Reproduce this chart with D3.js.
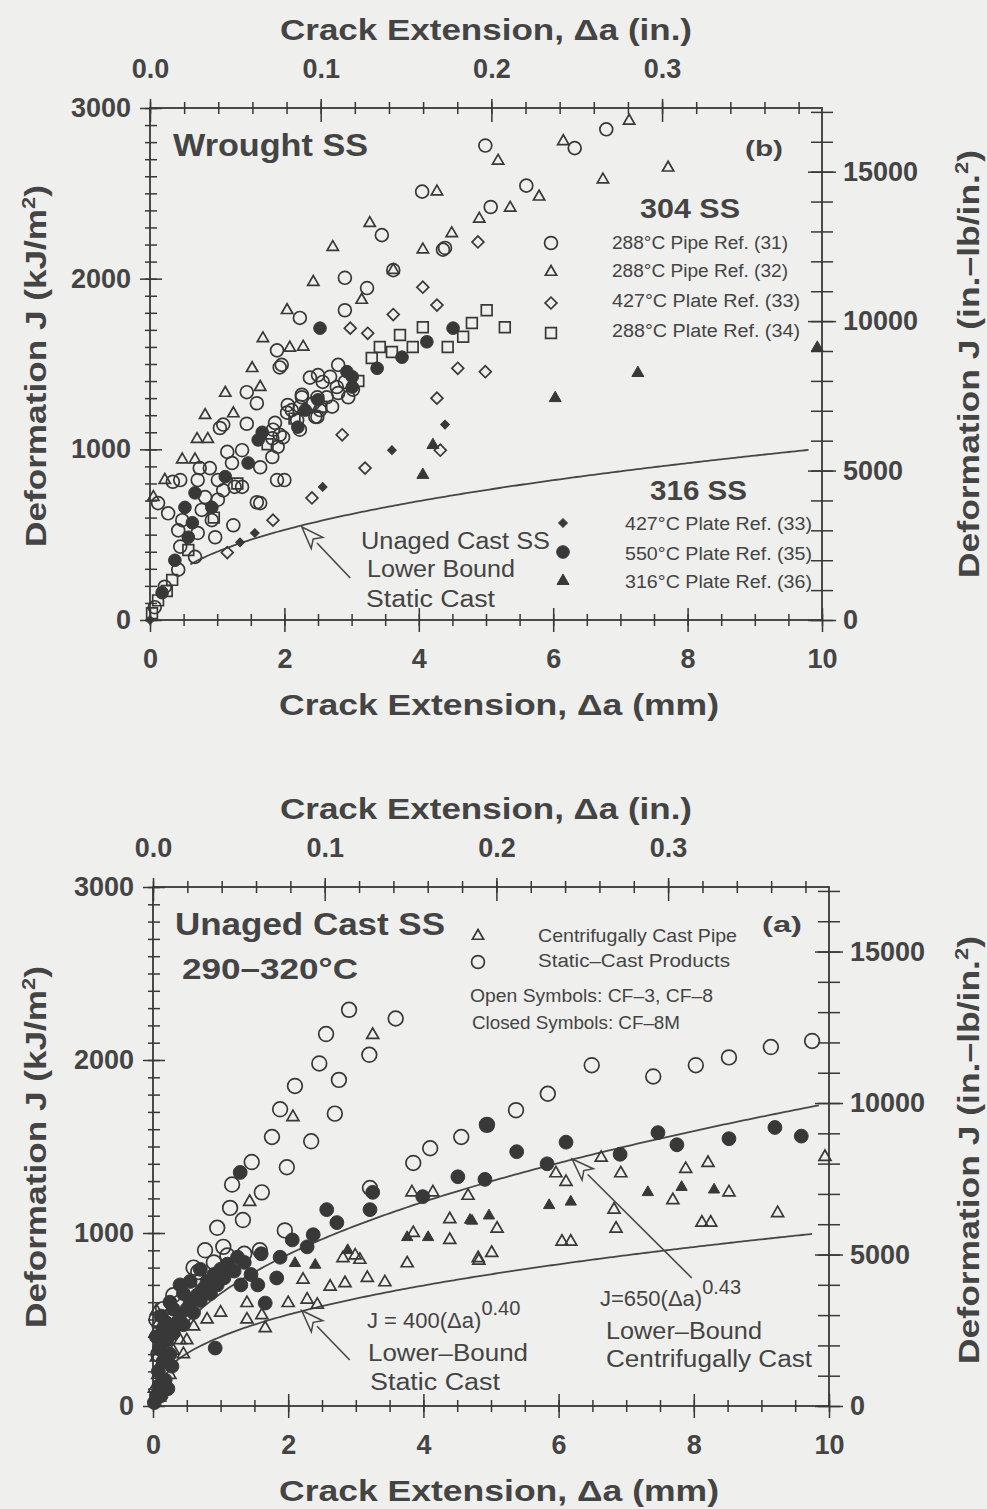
<!DOCTYPE html>
<html>
<head>
<meta charset="utf-8">
<script src="https://cdn.jsdelivr.net/npm/d3@7/dist/d3.min.js"></script>
<style>
  body { margin: 0; background: #efefed; }
  svg { display: block; }
  text { font-family: "Liberation Sans", Arial, Helvetica, sans-serif; fill: #444; }
</style>
</head>
<body>
<svg id="chart" width="987" height="1509"></svg>
<script>
// ---- tick labels ----
const mmTicks = [0, 2, 4, 6, 8, 10];
const inTicks = [0, 0.1, 0.2, 0.3];
const jTicks = [0, 1000, 2000, 3000];
const inlbTicks = [0, 5000, 10000, 15000];

// ---- (b) Wrought SS : [crack extension mm, J kJ/m2] ----
const pipe288Ref31 = [
  [4.99,2780],[6.32,2765],[6.79,2875],[5.6,2545],[5.07,2420],[4.39,2180],[4.05,2510],[4.36,2170],
  [3.45,2255],[3.62,2050],[2.9,2005],[3.23,1945],[2.9,1815],[2.23,1770],[1.89,1580],[1.96,1495],
  [1.93,1480],[1.44,1335],[1.59,1270],[1.04,1125],[1.44,1150],[1.09,1145],[1.89,820],[2.0,820],
  [1.24,555],[0.27,625],[1.15,985],[1.37,995],[1.82,1065],[1.98,1070],[2.11,1230],[2.26,1305],
  [2.46,1190],[2.71,1250],[2.8,1330],[2.9,1395],[1.22,920],[1.64,895],[1.82,955],[1.9,1015],
  [0.89,890],[1.01,820],[1.26,780],[1.37,780],[1.59,690],[0.71,820],[0.82,720],[0.77,645],
  [0.48,585],[0.42,525],[0.71,510],[0.45,430],[0.67,370],[0.42,295],[0.22,195],[0.07,75],
  [0.92,585],[0.97,485],[1.01,705],[1.09,760],[1.64,685],[0.12,685],[0.45,820],[0.34,810],
  [0.74,890],[2.8,1495],[2.68,1425],[2.5,1435],[2.38,1420],[2.57,1395],[2.78,1365],[3.02,1350],
  [2.95,1305],[2.63,1305],[2.49,1305],[2.43,1270],[2.26,1320],[2.23,1250],[2.53,1230],[2.49,1190],
  [2.05,1260],[2.04,1215],[2.19,1170],[2.23,1115],[1.86,1155],[1.83,1115],[1.93,1085]
];
const pipe288Ref32 = [
  [6.15,2805],[7.13,2925],[5.18,2690],[7.71,2650],[6.74,2580],[5.79,2480],[5.36,2415],[4.9,2350],
  [4.49,2265],[4.27,2510],[4.06,2170],[3.27,2325],[2.72,2185],[3.62,2050],[2.43,1980],[3.15,1875],
  [2.04,1815],[1.68,1650],[2.08,1595],[2.28,1600],[1.52,1475],[1.64,1365],[1.12,1330],[1.24,1210],
  [0.82,1200],[0.7,1060],[0.86,1060],[0.48,940],[0.67,940],[0.22,820],[0.05,720]
];
const plate427Ref33 = [
  [4.88,2215],[4.06,1950],[4.27,1845],[2.98,1710],[3.62,1790],[3.24,1680],[4.58,1475],[4.99,1455],
  [4.27,1300],[2.86,1085],[3.2,890],[2.41,715],[1.15,395],[4.32,995],[1.83,585]
];
const plate288Ref34 = [
  [3.72,1670],[4.06,1715],[3.42,1600],[3.3,1535],[3.6,1570],[3.91,1600],[4.43,1600],[4.66,1660],
  [4.79,1740],[5.01,1815],[5.28,1715],[0.57,410],[0.33,235],[0.12,115],[0.03,40],[2.55,1250],
  [3.1,1400],[1.3,800],[0.95,600],[0.25,170],[1.75,1030],[2.15,1180]
];
const ss316Plate427Ref33 = [[4.39,1145],[3.6,995],[2.57,780],[1.56,510],[1.34,455],[0,0]];
const ss316Plate550Ref35 = [
  [1.67,1100],[2.2,1130],[2.5,1290],[3.01,1365],[1.46,920],[1.61,1055],[1.12,840],[0.67,745],
  [0.92,660],[0.52,660],[0.63,570],[0.57,485],[0.37,350],[0.18,160],[2.53,1710],[4.51,1710],
  [4.12,1630],[3.75,1540],[3.38,1475],[3.01,1425],[2.93,1455],[2.31,1230]
];
const ss316Plate316Ref36 = [[4.21,1025],[4.06,850],[6.03,1300],[7.26,1447],[9.93,1595]];

// ---- (a) Unaged Cast SS ----
const staticOpen = [
  [2.9,2290],[3.59,2240],[2.56,2150],[3.2,2030],[2.46,1980],[2.75,1885],[2.1,1850],[2.69,1690],
  [1.88,1715],[1.76,1555],[2.34,1530],[4.1,1490],[4.56,1555],[4.94,1625],[6.49,1970],[7.4,1905],
  [8.03,1970],[8.52,2015],[9.14,2075],[9.75,2110],[5.84,1805],[5.37,1710],[1.46,1410],[1.17,1280],
  [1.61,1235],[1.98,1380],[1.14,1145],[1.33,1075],[0.95,1030],[0.77,900],[1.04,920],[0.67,775],
  [1.58,900],[1.95,1015],[3.85,1405],[3.21,1260],[0.05,500],[0.15,560],[0.3,640],[0.4,600],
  [0.55,680],[0.7,720],[0.9,830],[1.1,870],[0.25,520],[0.08,300],[0.2,400],[0.6,800],[1.35,880]
];
const staticClosed = [
  [5.38,1470],[6.11,1525],[7.47,1580],[7.75,1510],[8.52,1545],[9.2,1610],[9.59,1560],[6.91,1455],
  [5.83,1400],[4.51,1325],[4.91,1310],[4.94,1625],[1.29,1350],[2.57,1135],[2.72,1060],[3.25,1235],
  [3.21,1135],[2.06,960],[2.28,920],[1.88,860],[1.83,740],[1.66,595],[0.92,335],[3.99,1210],
  [2.37,990],[0.05,60],[0.1,120],[0.08,200],[0.15,260],[0.1,330],[0.2,380],[0.25,300],[0.3,420],
  [0.35,480],[0.4,530],[0.45,470],[0.5,560],[0.55,600],[0.6,540],[0.65,640],[0.7,610],[0.75,680],
  [0.8,720],[0.85,650],[0.9,760],[0.95,700],[1.0,790],[1.05,740],[1.1,820],[1.2,780],[1.25,860],
  [1.3,700],[1.35,830],[1.45,760],[1.55,700],[1.6,880],[0.2,480],[0.3,560],[0.45,650],[0.15,450],
  [0.05,400],[0.12,520],[0.25,600],[0.4,700],[0.55,720],[0.7,790],[0.02,20],[0.18,150],[0.28,230],
  [0.12,60],[0.22,100]
];
const centrifugalOpen = [
  [3.25,2145],[2.07,1670],[6.63,1435],[6.92,1345],[5.96,1345],[6.11,1295],[4.66,1215],[7.88,1370],
  [8.21,1405],[8.52,1235],[7.69,1190],[9.24,1115],[9.94,1440],[4.39,1080],[5.09,1025],[4.39,960],
  [4.82,840],[5.01,885],[6.05,950],[6.18,950],[6.82,1135],[6.85,1025],[8.12,1060],[8.25,1060],
  [1.43,1180],[2.22,730],[2.62,690],[2.84,710],[3.17,740],[3.43,715],[2.0,595],[2.28,615],
  [2.43,585],[1.39,595],[1.39,500],[1.61,525],[1.66,450],[2.81,855],[2.99,870],[3.06,845],
  [3.76,825],[3.85,1000],[3.83,1235],[4.14,1235],[4.81,855],[0.05,550],[0.08,480],[0.03,420],
  [0.1,350],[0.05,280],[0.07,180],[0.12,250],[0.2,330],[0.3,320],[0.4,380],[0.5,380],[0.45,300],
  [0.15,150],[0.25,180],[0.6,460],[0.8,500],[1.0,540],[0.02,100],[0.1,50]
];
const centrifugalClosed = [
  [4.72,1070],[4.97,1100],[5.86,1160],[6.18,1180],[7.32,1235],[7.82,1265],[8.3,1250],[2.1,825],
  [2.4,815],[4.07,975],[3.76,975],[4.69,1075],[2.88,900]
];

// lower-bound power laws J = C (Δa)^n as printed on the chart : [C, n]
const staticBound = [400, 0.40];
const centrifugalBound = [650, 0.43];

const MM_PER_IN = 25.4;
const INLB_PER_KJ = 5.71;
const ink = '#383838';

const svg = d3.select('#chart');

const styles = {
  circle: { shape: d3.symbolCircle, size: 130 },
  triangle: { shape: d3.symbolTriangle, size: 55 },
  diamond: { shape: d3.symbolSquare, size: 70, rotate: true },
  square: { shape: d3.symbolSquare, size: 115 },
  dotDiamond: { shape: d3.symbolSquare, size: 38, rotate: true, filled: true },
  dot: { shape: d3.symbolCircle, size: 125, filled: true },
  solidTriangle: { shape: d3.symbolTriangle, size: 62, filled: true },
  bigCircle: { shape: d3.symbolCircle, size: 170 },
  bigTriangle: { shape: d3.symbolTriangle, size: 62 },
  bigDot: { shape: d3.symbolCircle, size: 150, filled: true },
  bigSolidTriangle: { shape: d3.symbolTriangle, size: 55, filled: true },
};

function symbolAt(g, px, py, s) {
  return g.append('path')
    .attr('transform', `translate(${px},${py})` + (s.rotate ? ' rotate(45)' : ''))
    .attr('d', d3.symbol(s.shape, s.size))
    .attr('fill', s.filled ? ink : 'none')
    .attr('stroke', ink)
    .attr('stroke-width', s.filled ? 1 : 1.7);
}

function drawPoints(g, data, x, y, s) {
  g.append('g')
    .selectAll('path')
    .data(data)
    .join('path')
    .attr('transform', (d) => `translate(${x(d[0])},${y(d[1])})` + (s.rotate ? ' rotate(45)' : ''))
    .attr('d', d3.symbol(s.shape, s.size))
    .attr('fill', s.filled ? ink : 'none')
    .attr('stroke', ink)
    .attr('stroke-width', s.filled ? 1 : 1.7);
}

function label(g, str, x, y, o = {}) {
  const t = g.append('text')
    .attr('x', x)
    .attr('y', y)
    .attr('font-size', o.size || 20)
    .attr('font-weight', o.bold ? 'bold' : 'normal')
    .attr('text-anchor', o.anchor || 'start')
    .text(str);
  if (o.len) t.attr('textLength', o.len).attr('lengthAdjust', 'spacingAndGlyphs');
  return t;
}

// crossing tick marks (no labels)
function tickMarks(g, axis, transform, values, inner, outer, horizontal) {
  const a = g.append('g')
    .attr('transform', transform)
    .call(axis.tickValues(values).tickSize(outer).tickFormat(''));
  a.select('.domain').remove();
  a.selectAll('.tick line')
    .attr(horizontal ? 'y1' : 'x1', inner)
    .attr(horizontal ? 'y2' : 'x2', outer)
    .attr('stroke', ink)
    .attr('stroke-width', 1.5);
}

function tickLabels(g, axis, transform, values, pad, fmt) {
  const a = g.append('g')
    .attr('transform', transform)
    .call(axis.tickValues(values).tickSize(0).tickPadding(pad).tickFormat(fmt));
  a.select('.domain').remove();
  a.selectAll('text')
    .attr('font-size', 27)
    .attr('font-weight', 'bold')
    .attr('font-family', '"Liberation Sans", Arial, sans-serif')
    .attr('fill', '#444');
}

function boundCurve(g, law, from, to, x, y) {
  const pts = d3.range(from, to + 1e-9, 0.05).map((a) => [a, law[0] * Math.pow(a, law[1])]);
  g.append('path')
    .datum(pts)
    .attr('fill', 'none')
    .attr('stroke', '#474747')
    .attr('stroke-width', 1.8)
    .attr('d', d3.line().x((d) => x(d[0])).y((d) => y(d[1])));
}

// open-headed arrow from tail to tip (in data units)
function arrow(g, tail, tip, x, y) {
  const x1 = x(tail[0]), y1 = y(tail[1]), x2 = x(tip[0]), y2 = y(tip[1]);
  const ang = Math.atan2(y2 - y1, x2 - x1);
  const len = 22, half = 8;
  const bx = x2 - len * Math.cos(ang), by = y2 - len * Math.sin(ang);
  const nx = -Math.sin(ang) * half, ny = Math.cos(ang) * half;
  g.append('line')
    .attr('x1', x1).attr('y1', y1).attr('x2', bx).attr('y2', by)
    .attr('stroke', '#474747').attr('stroke-width', 1.6);
  g.append('path')
    .attr('d', `M${x2},${y2}L${bx + nx},${by + ny}L${bx + len * 0.25 * Math.cos(ang)},${by + len * 0.25 * Math.sin(ang)}L${bx - nx},${by - ny}Z`)
    .attr('fill', '#efefed').attr('stroke', '#474747').attr('stroke-width', 1.5);
}

function panel(p) {
  const g = svg.append('g');
  const x = d3.scaleLinear().domain([0, 10]).range([p.left, p.right]);
  const y = d3.scaleLinear().domain([0, 3000]).range([p.bottom, p.top]);
  const xIn = d3.scaleLinear().domain([0, 10 / MM_PER_IN]).range([p.left, p.right]);
  const yR = d3.scaleLinear().domain([0, 3000 * INLB_PER_KJ]).range([p.bottom, p.top]);

  g.append('rect')
    .attr('x', p.left).attr('y', p.top)
    .attr('width', p.right - p.left).attr('height', p.bottom - p.top)
    .attr('fill', 'none').attr('stroke', ink).attr('stroke-width', 1.8);

  // bottom: mm
  tickMarks(g, d3.axisBottom(x), `translate(0,${p.bottom})`, d3.range(0, 21).map((i) => i * 0.5), -6, 6, true);
  tickMarks(g, d3.axisBottom(x), `translate(0,${p.bottom})`, mmTicks, -12, 12, true);
  tickLabels(g, d3.axisBottom(x), `translate(0,${p.bottom})`, mmTicks, 29, d3.format('d'));
  // top: inches
  tickMarks(g, d3.axisTop(xIn), `translate(0,${p.top})`, d3.range(0, 20).map((i) => i * 0.02), 6, -6, true);
  tickMarks(g, d3.axisTop(xIn), `translate(0,${p.top})`, inTicks, 14, -9, true);
  tickLabels(g, d3.axisTop(xIn), `translate(0,${p.top})`, inTicks, 30, d3.format('.1f'));
  // left: kJ/m2
  tickMarks(g, d3.axisLeft(y), `translate(${p.left},0)`, d3.range(0, 31).map((i) => i * 100), 7, -5, false);
  tickMarks(g, d3.axisLeft(y), `translate(${p.left},0)`, jTicks, 12, -10, false);
  tickLabels(g, d3.axisLeft(y), `translate(${p.left},0)`, jTicks, 19, d3.format('d'));
  // right: in.-lb/in.2
  tickMarks(g, d3.axisRight(yR), `translate(${p.right},0)`, d3.range(0, 18).map((i) => i * 1000), -11, 11, false);
  tickMarks(g, d3.axisRight(yR), `translate(${p.right},0)`, inlbTicks, -14, 14, false);
  tickLabels(g, d3.axisRight(yR), `translate(${p.right},0)`, inlbTicks, 21, d3.format('d'));

  // axis titles
  label(g, 'Crack Extension, \u0394a (in.)', 486, p.top - 68, { size: 29, bold: true, anchor: 'middle', len: 412 });
  label(g, 'Crack Extension, \u0394a (mm)', 499, p.bottom + 95, { size: 29, bold: true, anchor: 'middle', len: 440 });

  const yl = g.append('text')
    .attr('transform', `translate(46,${p.ymid}) rotate(-90)`)
    .attr('text-anchor', 'middle').attr('font-size', 29).attr('font-weight', 'bold')
    .attr('textLength', 362).attr('lengthAdjust', 'spacingAndGlyphs');
  yl.append('tspan').text('Deformation J (kJ/m');
  yl.append('tspan').attr('dy', -11).attr('font-size', 18).text('2');
  yl.append('tspan').attr('dy', 11).text(')');

  const yr = g.append('text')
    .attr('transform', `translate(979,${p.ymidR}) rotate(-90)`)
    .attr('text-anchor', 'middle').attr('font-size', 29).attr('font-weight', 'bold')
    .attr('textLength', 428).attr('lengthAdjust', 'spacingAndGlyphs');
  yr.append('tspan').text('Deformation J (in.\u2013lb/in.');
  yr.append('tspan').attr('dy', -11).attr('font-size', 18).text('2');
  yr.append('tspan').attr('dy', 11).text(')');

  return { g, x, y };
}

// ================= (b) top panel =================
{
  const { g, x, y } = panel({ left: 150, right: 822, top: 108, bottom: 620, ymid: 366, ymidR: 364 });

  boundCurve(g, staticBound, 0.6, 9.8, x, y);
  arrow(g, [2.98, 246], [2.26, 545], x, y);

  drawPoints(g, plate288Ref34, x, y, styles.square);
  drawPoints(g, plate427Ref33, x, y, styles.diamond);
  drawPoints(g, pipe288Ref31, x, y, styles.circle);
  drawPoints(g, pipe288Ref32, x, y, styles.triangle);
  drawPoints(g, ss316Plate550Ref35, x, y, styles.dot);
  drawPoints(g, ss316Plate427Ref33, x, y, styles.dotDiamond);
  drawPoints(g, ss316Plate316Ref36, x, y, styles.solidTriangle);

  label(g, 'Wrought SS', 173, 156, { size: 31, bold: true, len: 195 });
  label(g, '(b)', 745, 156, { size: 22, bold: true, len: 38 });

  label(g, '304 SS', 640, 218, { size: 27, bold: true, len: 100 });
  const legend304 = [
    ['288\u00B0C Pipe Ref. (31)', styles.circle, 243, 249, 176],
    ['288\u00B0C Pipe Ref. (32)', styles.triangle, 272, 277, 176],
    ['427\u00B0C Plate Ref. (33)', styles.diamond, 303, 307, 188],
    ['288\u00B0C Plate Ref. (34)', styles.square, 333, 337, 188],
  ];
  legend304.forEach(([t, s, sy, ty, len]) => {
    symbolAt(g, 551, sy, s);
    label(g, t, 612, ty, { size: 18, len });
  });

  label(g, '316 SS', 650, 500, { size: 27, bold: true, len: 97 });
  const legend316 = [
    ['427\u00B0C Plate Ref. (33)', styles.dotDiamond, 523, 530],
    ['550\u00B0C Plate Ref. (35)', styles.dot, 552, 560],
    ['316\u00B0C Plate Ref. (36)', styles.solidTriangle, 581, 588],
  ];
  legend316.forEach(([t, s, sy, ty]) => {
    symbolAt(g, 563, sy, s);
    label(g, t, 625, ty, { size: 18, len: 187 });
  });

  label(g, 'Unaged Cast SS', 361, 549, { size: 23, len: 189 });
  label(g, 'Lower Bound', 367, 577, { size: 23, len: 148 });
  label(g, 'Static Cast', 366, 607, { size: 23, len: 129 });
}

// ================= (a) bottom panel =================
{
  const { g, x, y } = panel({ left: 153, right: 829, top: 887, bottom: 1406, ymid: 1147, ymidR: 1150 });

  boundCurve(g, staticBound, 0.3, 9.76, x, y);
  boundCurve(g, centrifugalBound, 0.3, 9.85, x, y);
  arrow(g, [2.91, 266], [2.2, 552], x, y);
  arrow(g, [7.97, 740], [6.2, 1428], x, y);

  drawPoints(g, staticOpen, x, y, styles.bigCircle);
  drawPoints(g, centrifugalOpen, x, y, styles.bigTriangle);
  drawPoints(g, staticClosed, x, y, styles.bigDot);
  drawPoints(g, centrifugalClosed, x, y, styles.bigSolidTriangle);

  label(g, 'Unaged Cast SS', 175, 935, { size: 31, bold: true, len: 270 });
  label(g, '290\u2013320\u00B0C', 182, 979, { size: 30, bold: true, len: 176 });
  label(g, '(a)', 762, 932, { size: 22, bold: true, len: 40 });

  symbolAt(g, 478, 936, styles.triangle);
  symbolAt(g, 478, 962, styles.circle);
  label(g, 'Centrifugally Cast Pipe', 538, 942, { size: 19, len: 199 });
  label(g, 'Static\u2013Cast  Products', 538, 967, { size: 19, len: 192 });
  label(g, 'Open Symbols: CF\u20133, CF\u20138', 470, 1002, { size: 18, len: 243 });
  label(g, 'Closed Symbols: CF\u20138M', 472, 1029, { size: 18, len: 208 });

  const eq1 = label(g, 'J = 400(\u0394a)', 367, 1328, { size: 22 });
  eq1.append('tspan').attr('dy', -13).attr('font-size', 20).text('0.40');
  label(g, 'Lower\u2013Bound', 368, 1361, { size: 23, len: 160 });
  label(g, 'Static Cast', 370, 1390, { size: 23, len: 130 });

  const eq2 = label(g, 'J=650(\u0394a)', 600, 1306, { size: 22 });
  eq2.append('tspan').attr('dy', -12).attr('font-size', 20).text('0.43');
  label(g, 'Lower\u2013Bound', 606, 1339, { size: 23, len: 156 });
  label(g, 'Centrifugally Cast', 606, 1367, { size: 23, len: 206 });
}
</script>
</body>
</html>
